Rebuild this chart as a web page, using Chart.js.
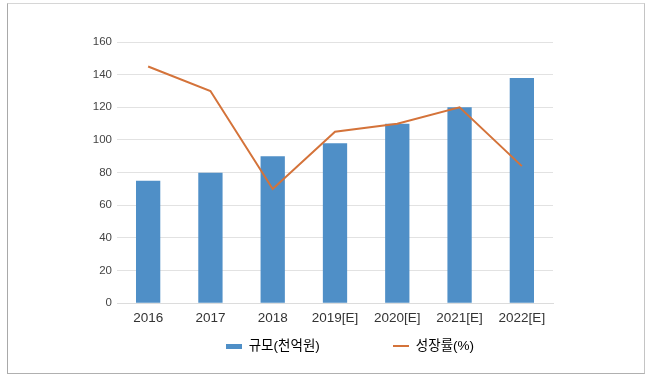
<!DOCTYPE html>
<html><head><meta charset="utf-8">
<script src="https://cdn.jsdelivr.net/npm/chart.js@4/dist/chart.umd.min.js"></script>
<style>
html,body{margin:0;padding:0;background:#fff;}
#wrap{position:relative;width:650px;height:379px;}
#frame{position:absolute;left:7px;top:3px;width:638px;height:371px;box-sizing:border-box;
  border-left:1.5px solid #a9a9a9;border-top:1.5px solid #d6d6d6;border-right:1.5px solid #c4c4c4;border-bottom:1.5px solid #b0b0b0;}
canvas{position:absolute;left:0;top:0;}
</style></head>
<body><div id="wrap"><div id="frame"></div><canvas id="c" width="650" height="379"></canvas></div>
<script>
const categories = ['2016','2017','2018','2019[E]','2020[E]','2021[E]','2022[E]'];
const scaleValues = [75, 80, 90, 98, 110, 120, 138];
const growthValues = [145, 130, 70, 105, 110, 120, 84];
const seriesNames = ['규모(천억원)', '성장률(%)'];
const yTicks = [0, 20, 40, 60, 80, 100, 120, 140, 160];

const BAR = '#4f8fc7', LINE = '#d4733a';
const FONT = '"Liberation Sans", "Noto Sans CJK KR", sans-serif';

function swatch(w, h, color) {
  const c = document.createElement('canvas');
  c.width = w; c.height = h;
  const g = c.getContext('2d');
  g.fillStyle = color; g.fillRect(0, 0, w, h);
  return c;
}
const sw1 = swatch(16, 5, BAR);
const sw2 = swatch(16, 2, LINE);
const sw0 = swatch(1, 1, 'rgba(0,0,0,0)');

const legendPlace = {
  id: 'legendPlace',
  afterLayout(chart) {
    const lg = chart.legend;
    if (!lg) return;
    lg.left = 145; lg.right = 555;
    lg.top -= 8; lg.bottom -= 8;
  }
};

new Chart(document.getElementById('c'), {
  data: {
    labels: categories,
    datasets: [
      { type: 'line', label: seriesNames[1], data: growthValues, borderColor: LINE, borderWidth: 2,
        pointRadius: 0, tension: 0, fill: false, order: 0 },
      { type: 'bar', label: seriesNames[0], data: scaleValues, backgroundColor: BAR,
        categoryPercentage: 1, barPercentage: 0.39, order: 1 }
    ]
  },
  plugins: [legendPlace],
  options: {
    responsive: false, animation: false,
    layout: { padding: { left: 0, right: 97, top: 42, bottom: 8 } },
    plugins: {
      tooltip: { enabled: false },
      legend: {
        position: 'bottom',
        labels: {
          usePointStyle: true, pointStyleWidth: 16, padding: 14,
          color: '#333', font: { family: FONT, size: 13.5 },
          generateLabels: () => [
            { text: seriesNames[0], pointStyle: sw1, fillStyle: BAR, strokeStyle: BAR, lineWidth: 0, datasetIndex: 1 },
            { text: '      ', pointStyle: sw0, lineWidth: 0, datasetIndex: -1 },
            { text: seriesNames[1], pointStyle: sw2, fillStyle: LINE, strokeStyle: LINE, lineWidth: 0, datasetIndex: 0 }
          ]
        }
      }
    },
    scales: {
      x: {
        grid: { display: false, drawTicks: false },
        border: { display: true, color: '#dcdcdc' },
        ticks: { color: '#333', font: { family: FONT, size: 13.5 }, padding: 7, maxRotation: 0, autoSkip: false }
      },
      y: {
        min: 0, max: 160,
        afterBuildTicks: a => { a.ticks = yTicks.map(v => ({ value: v })); },
        afterFit: a => { a.width = 117; },
        grid: { color: '#e2e2e2', drawTicks: false },
        border: { display: false },
        ticks: { color: '#444', font: { family: FONT, size: 11.5 }, padding: 5 }
      }
    }
  }
});
</script></body></html>
